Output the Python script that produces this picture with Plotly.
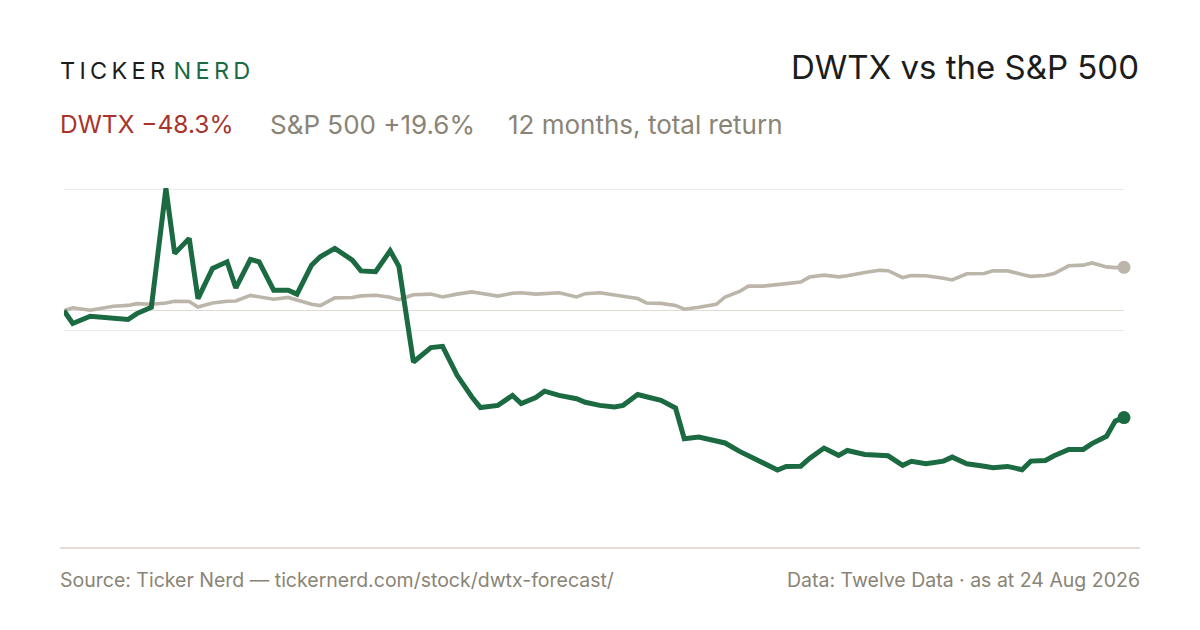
import pandas as pd
import plotly.graph_objects as go

# trading calendar: every 3rd session from 25 Aug 2025, plus the latest close
holidays = ["2025-09-01", "2025-11-27", "2025-12-25", "2026-01-01", "2026-01-19",
            "2026-02-16", "2026-04-03", "2026-05-25", "2026-06-19", "2026-07-03"]
sessions = pd.bdate_range("2025-08-25", "2026-08-24")
sessions = sessions[~sessions.isin(pd.to_datetime(holidays))]
dates = list(sessions[:-1][::3]) + [sessions[-1]]

# cumulative total return, %
dwtx = [0, -5.8, -2.5, -3.0, -3.4, -4.0, -1.3, 1.6, 55.3, 25.9,
        32.7, 5.5, 19.1, 22.1, 10.3, 23.2, 22.1, 9.3, 9.3, 7.5,
        20.6, 24.4, 28.2, 22.9, 18.0, 17.6, 27.1, 20.1, -23.2, -16.7,
        -16.1, -29.2, -38.9, -43.8, -42.8, -38.3, -42.0, -39.3, -36.4, -38.3,
        -39.8, -41.4, -42.8, -43.5, -42.8, -37.9, -38.9, -40.5, -44.0, -57.9,
        -57.1, -58.6, -59.8, -63.6, -65.6, -68.6, -72.0, -70.4, -70.3, -66.8,
        -62.1, -65.4, -63.2, -65.0, -65.2, -65.6, -69.9, -68.1, -69.2, -68.0,
        -66.2, -69.2, -70.3, -71.0, -70.4, -71.9, -68.0, -67.7, -65.6, -62.7,
        -62.7, -60.1, -56.8, -49.9, -48.3]
spx = [0, 1.3, 0.2, 1.1, 2.0, 2.4, 3.2, 2.9, 3.5, 4.3,
       4.2, 1.7, 3.5, 4.3, 4.4, 6.9, 6.3, 5.2, 6.0, 4.8,
       2.9, 2.3, 5.8, 6.0, 6.7, 7.0, 6.1, 5.0, 7.2, 7.5,
       6.2, 7.5, 8.5, 7.9, 6.6, 7.9, 8.1, 7.5, 7.7, 8.1,
       6.2, 7.7, 8.1, 7.0, 6.3, 5.5, 3.5, 3.3, 2.4, 0.7,
       1.6, 2.9, 6.2, 8.7, 11.1, 11.1, 11.8, 12.4, 13.0, 15.2,
       16.1, 15.3, 15.8, 17.3, 18.3, 18.1, 15.0, 15.9, 15.8, 14.7,
       13.9, 16.7, 16.8, 18.0, 18.0, 16.4, 15.5, 15.9, 16.8, 20.3,
       20.6, 21.6, 19.8, 19.5, 19.6]
grid_vals = [55, -8.8]

GREEN = "#1b6a42"
GREY_LINE = "#bcb5aa"
RED = "#a8342c"
MUTED = "#8a8476"
INK = "#1c1c1c"
FONT = "Inter"

W, H = 1200, 630
OFF = 8  # page body margin shifts the figure
L, R, T, B = 56, 84, 170, 84
PW, PH = W - L - R, H - T - B


def px(x):
    # screen x -> paper
    return (x - OFF - L) / PW


def py(y):
    # screen y -> paper
    return (T + PH - (y - OFF)) / PH


fig = go.Figure()
fig.add_trace(go.Scatter(x=dates, y=spx, mode="lines",
                         line=dict(color=GREY_LINE, width=3.6), hoverinfo="skip"))
fig.add_trace(go.Scatter(x=dates, y=dwtx, mode="lines",
                         line=dict(color=GREEN, width=5), hoverinfo="skip"))
fig.add_trace(go.Scatter(x=[dates[-1]], y=[spx[-1]], mode="markers",
                         marker=dict(color=GREY_LINE, size=13), cliponaxis=False))
fig.add_trace(go.Scatter(x=[dates[-1]], y=[dwtx[-1]], mode="markers",
                         marker=dict(color=GREEN, size=13), cliponaxis=False))

fig.add_shape(type="line", xref="paper", yref="paper", x0=px(60), x1=px(1140),
              y0=py(548), y1=py(548), line=dict(color="#e2ded5", width=2))

hs = "\u200a\u200a"
logo = hs.join("TICKER") + "<span style='color:%s'>\u2009\u2009%s</span>" % (GREEN, hs.join("NERD"))
ann = [
    dict(x=px(58), y=py(70), text=logo, xanchor="left", font=dict(size=23.5, color=INK)),
    dict(x=px(1141), y=py(67), text="DWTX vs the S&P 500", xanchor="right",
         font=dict(size=33, color=INK)),
    dict(x=px(58), y=py(124), text="DWTX \u221248.3%", xanchor="left",
         font=dict(size=24.5, color=RED)),
    dict(x=px(268), y=py(124), text="S&P 500 +19.6%", xanchor="left",
         font=dict(size=26, color=MUTED)),
    dict(x=px(506), y=py(124), text="12 months, total return", xanchor="left",
         font=dict(size=26, color=MUTED)),
    dict(x=px(58), y=py(580), text="Source: Ticker Nerd \u2014 tickernerd.com/stock/dwtx-forecast/",
         xanchor="left", font=dict(size=19.5, color=MUTED)),
    dict(x=px(1142), y=py(580), text="Data: Twelve Data \u00b7 as at 24 Aug 2026",
         xanchor="right", font=dict(size=19.5, color=MUTED)),
]
for a in ann:
    fig.add_annotation(xref="paper", yref="paper", yanchor="middle", showarrow=False, **a)

fig.update_layout(
    width=W, height=H,
    margin=dict(l=L, r=R, t=T, b=B),
    paper_bgcolor="white", plot_bgcolor="white",
    showlegend=False,
    font=dict(family=FONT),
    xaxis=dict(range=[dates[0], dates[-1]], showgrid=False, zeroline=False,
               showticklabels=False, showline=False),
    yaxis=dict(range=[-110, 60], tickvals=grid_vals, showticklabels=False,
               showgrid=True, gridcolor="#ece9e2", gridwidth=1.2,
               zeroline=True, zerolinecolor="#e0dcd3", zerolinewidth=1.2),
)

fig.write_html("out.html")
